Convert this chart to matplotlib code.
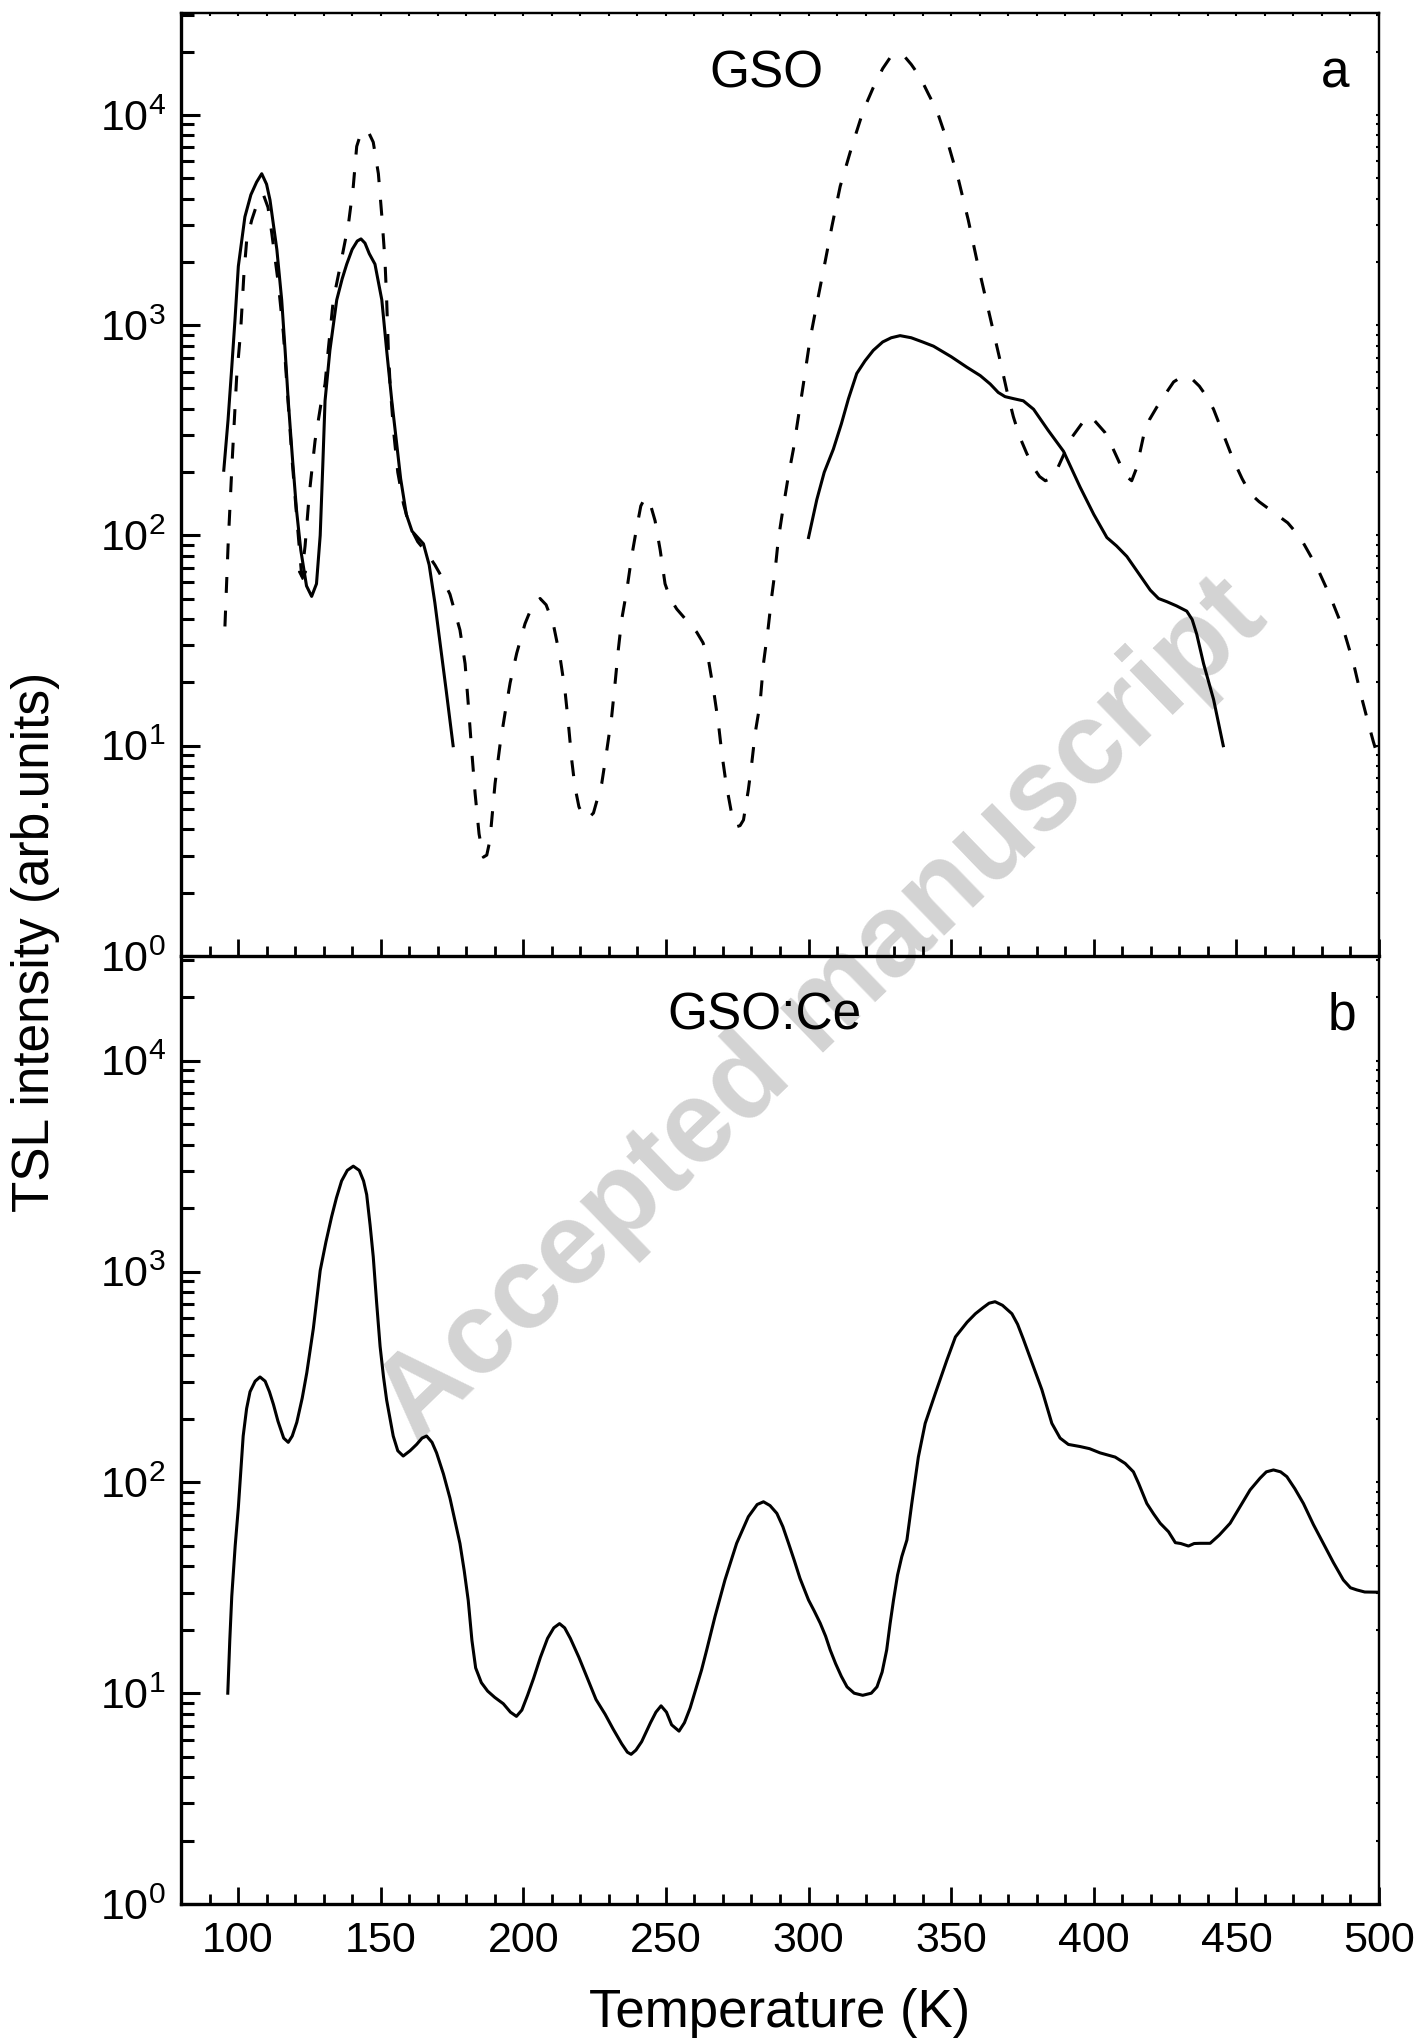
import numpy as np
import matplotlib
matplotlib.use("Agg")
import matplotlib.pyplot as plt
from matplotlib.ticker import FixedLocator, FuncFormatter, MultipleLocator, NullFormatter, LogLocator

plt.rcParams['font.family'] = ['Liberation Sans', 'DejaVu Sans']
plt.rcParams['mathtext.fontset'] = 'custom'
plt.rcParams['mathtext.rm'] = 'Liberation Sans'
plt.rcParams['mathtext.it'] = 'Liberation Sans:italic'
plt.rcParams['mathtext.bf'] = 'Liberation Sans:bold'

# ---------------- data (log10 of TSL intensity) ----------------
# Panel a, GSO, solid curve (two segments)
gso_solid1_T = [95, 96.5, 97.8, 98.9, 100.1, 102.4, 104.5, 106.5, 108.3, 110, 111.2, 113.6, 115.3,
                116.5, 117.6, 119, 120.5, 122, 124, 125.8, 127.5, 128.8, 129.7, 130.5, 132.2, 134.6,
                136.5, 138.1, 140, 141.8, 143.1, 144.5, 146, 148, 150.4, 152.1, 153.9, 155.5, 157,
                159, 161, 163, 165, 167, 169, 171, 173, 175.4]
gso_solid1_logI = [2.31, 2.55, 2.80, 3.02, 3.28, 3.515, 3.62, 3.68, 3.72, 3.67, 3.595, 3.36, 3.12,
                   2.88, 2.64, 2.38, 2.12, 1.93, 1.76, 1.71, 1.77, 2.0, 2.33, 2.64, 2.88, 3.12,
                   3.22, 3.29, 3.36, 3.40, 3.41, 3.39, 3.34, 3.29, 3.12, 2.88, 2.64, 2.45, 2.27,
                   2.10, 2.02, 1.99, 1.96, 1.86, 1.68, 1.47, 1.26, 1.0]

gso_solid2_T = [300, 302.9, 305.5, 308.7, 311.5, 314, 316.9, 319.8, 322.7, 326, 329, 332.1, 336, 340,
                343.8, 350, 355.5, 360.2, 363.7, 366.5, 368.9, 372, 375.3, 378.9, 384, 389.4, 395.2,
                400, 404.6, 408, 411.6, 415.7, 419.8, 422.7, 425.6, 429, 432.6, 434.5, 436.1, 438.5,
                442, 445.4]
gso_solid2_logI = [1.99, 2.17, 2.30, 2.41, 2.53, 2.65, 2.77, 2.83, 2.88, 2.92, 2.94, 2.95, 2.94, 2.92,
                   2.90, 2.85, 2.80, 2.76, 2.72, 2.68, 2.66, 2.65, 2.64, 2.60, 2.50, 2.40, 2.23,
                   2.10, 1.99, 1.95, 1.90, 1.82, 1.74, 1.70, 1.685, 1.665, 1.64, 1.60, 1.53, 1.39,
                   1.22, 1.0]

# Panel a, GSO, dashed curve
gso_dash_T = [95.4, 96.5, 98, 99.5, 100.9, 102, 103, 104.8, 106.5, 108.9, 110.5, 111.8, 114.1, 115.9,
              117.1, 119, 120.8, 122.3, 123.5, 125, 127, 129, 130.5, 131.6, 133.4, 135.8, 138.7,
              140.4, 141.6, 143, 144.5, 146, 147.4, 149.2, 150.4, 151.5, 152.1, 152.7, 153.3, 154.5,
              156, 158, 160, 163, 166, 169, 171.5, 174.3, 177.8, 179.6, 180.7, 181.9, 183.1, 184.5,
              186, 187.2, 188.3, 190.1, 191.9, 193.6, 195.4, 197.7, 200.6, 203, 205.9, 208, 210.5,
              212.9, 214.6, 215.8, 217, 218.1, 219.5, 221.1, 222.8, 224.6, 227.5, 229.3, 231, 232.2,
              233.3, 234.5, 236.3, 238, 239.8, 241.2, 242.7, 244.5, 246.2, 248, 249.7, 251.5, 253.8,
              257, 260.8, 263, 264.9, 266.7, 268.4, 269.6, 271.1, 273, 274.8, 276, 277.2, 278.9,
              280.1, 281.3, 283, 284.2, 285.9, 287.1, 288.3, 289.4, 291.2, 292.9, 294.7, 296.5,
              298.2, 300.5, 302.9, 305.8, 308.2, 311.1, 315.2, 319.2, 322.7, 326, 328.5, 330.9,
              333.5, 336, 339.1, 342, 345, 349, 352.6, 356, 359, 361.9, 364.8, 367.2, 369.5, 371.8,
              374, 376.5, 379, 381, 383, 385, 387, 390, 392.5, 395.2, 397.6, 400, 403.9, 406.5,
              409.2, 411.5, 413.3, 415, 417.4, 419.5, 422.1, 425, 428, 430.9, 434, 437, 439.6, 442,
              444.3, 448.9, 452, 454.8, 458, 463, 468, 472.4, 478.2, 482.9, 487.6, 491.1, 493.5,
              496, 498, 500]
gso_dash_logI = [1.567, 1.95, 2.37, 2.75, 2.97, 3.23, 3.40, 3.50, 3.57, 3.62, 3.56, 3.44, 3.20, 2.96,
                 2.72, 2.35, 2.05, 1.81, 1.95, 2.2, 2.45, 2.62, 2.72, 2.88, 3.12, 3.28, 3.48,
                 3.66, 3.85, 3.91, 3.93, 3.91, 3.87, 3.72, 3.52, 3.31, 3.12, 2.88, 2.72, 2.50,
                 2.30, 2.15, 2.05, 1.97, 1.92, 1.86, 1.80, 1.72, 1.55, 1.39, 1.20, 0.98, 0.774, 0.58,
                 0.47, 0.48, 0.55, 0.82, 1.01, 1.155, 1.30, 1.44, 1.58, 1.66, 1.70, 1.67, 1.58,
                 1.42, 1.265, 1.107, 0.93, 0.805, 0.71, 0.662, 0.655, 0.68, 0.82, 0.98, 1.14, 1.30,
                 1.455, 1.60, 1.74, 1.90, 2.04, 2.14, 2.18, 2.15, 2.07, 1.93, 1.77, 1.70, 1.65,
                 1.60, 1.54, 1.49, 1.41, 1.265, 1.107, 0.964, 0.82, 0.68, 0.615, 0.62, 0.647, 0.79,
                 0.917, 1.06, 1.20, 1.39, 1.565, 1.71, 1.835, 1.98, 2.14, 2.28, 2.41, 2.57,
                 2.72, 2.93, 3.10, 3.30, 3.47, 3.66, 3.85, 4.02, 4.13, 4.22, 4.27, 4.29,
                 4.28, 4.24, 4.18, 4.10, 4.02, 3.86, 3.69, 3.50, 3.31, 3.14, 2.97, 2.83, 2.69, 2.565,
                 2.47, 2.39, 2.32, 2.28, 2.26, 2.27, 2.31, 2.40, 2.47, 2.52, 2.565, 2.55, 2.49, 2.42,
                 2.34, 2.28, 2.26, 2.32, 2.47, 2.55, 2.61, 2.67, 2.73, 2.755, 2.75, 2.71, 2.66, 2.60,
                 2.52, 2.36, 2.27, 2.20, 2.16, 2.11, 2.06, 1.99, 1.85, 1.71, 1.55, 1.39, 1.25,
                 1.12, 1.02, 0.93]

# arrow head drawn on the dashed curve
arrow_T = [122.3]
arrow_logI = [1.81]

# Panel b, GSO:Ce
ce_T = [96.4, 97.1, 97.8, 99, 100.1, 101.8, 103, 104.2, 106, 107.7, 109.5, 111, 112.4, 114, 116,
        117.6, 119, 120.6, 122.5, 124.1, 126.4, 128.8, 130.8, 132.8, 134.5, 136.3, 138.3, 140.4,
        142.5, 144, 145.1, 146.3, 147.4, 148.6, 149.8, 151, 152.1, 154.4, 156, 157.9, 160.3,
        162.6, 164.5, 166.1, 168, 169.6, 172, 174.3, 176, 177.8, 179.3, 180.7, 182, 183.3, 185.3,
        187.5, 190, 193, 195.5, 197.6, 199.5, 201.5, 203.6, 206, 208.5, 210.7, 212.7, 214.5,
        216.5, 219.5, 222.5, 225.5, 228.7, 231.5, 234.5, 236.5, 237.8, 239.5, 241.5, 244.6,
        246.5, 248.3, 250.2, 252, 254.6, 256.5, 258.5, 260.5, 262.5, 264.3, 267.2, 270.7, 274.8,
        278.9, 282, 284.2, 286.5, 288.9, 291, 293, 295, 297, 300, 302, 304.1, 306, 307.6, 309.5,
        311.5, 313.5, 316, 319, 322, 324, 325.8, 327.4, 328.6, 329.8, 331.2, 332.7, 334.5, 336.2,
        338.5, 340.9, 344.4, 348.5, 351.5, 355.6, 358.5, 361.3, 363.3, 365.4, 368, 371.3, 373.3,
        375.3, 378.8, 381.8, 385.3, 388.2, 391.1, 395.2, 398.5, 402.2, 407.5, 411, 413.9, 415.7,
        418.6, 421, 423.3, 426.2, 428.6, 430.5, 433.2, 435.2, 437.3, 440.8, 444, 447.8, 451.5,
        454.8, 458.3, 460.5, 463, 465.5, 467.7, 470.5, 473.5, 477, 480.5, 484, 487.5, 490, 492.2,
        495, 499.8]
ce_logI = [1.0, 1.25, 1.46, 1.70, 1.88, 2.22, 2.35, 2.43, 2.48, 2.50, 2.48, 2.43, 2.37, 2.29, 2.21,
           2.19, 2.22, 2.285, 2.40, 2.52, 2.73, 3.005, 3.14, 3.26, 3.35, 3.43, 3.48, 3.50,
           3.48, 3.43, 3.365, 3.22, 3.07, 2.85, 2.645, 2.50, 2.39, 2.22, 2.15, 2.125, 2.15,
           2.18, 2.21, 2.22, 2.19, 2.14, 2.04, 1.925, 1.82, 1.71, 1.58, 1.44, 1.25, 1.12, 1.05,
           1.01, 0.98, 0.95, 0.91, 0.89, 0.92, 0.99, 1.07, 1.17, 1.26, 1.31, 1.33, 1.31,
           1.26, 1.17, 1.07, 0.97, 0.90, 0.83, 0.76, 0.72, 0.71, 0.73, 0.77, 0.86,
           0.91, 0.94, 0.91, 0.85, 0.82, 0.86, 0.93, 1.02, 1.11, 1.205, 1.363, 1.537, 1.711,
           1.837, 1.895, 1.908, 1.89, 1.853, 1.79, 1.711, 1.63, 1.545, 1.442, 1.39, 1.332, 1.27, 1.205, 1.14,
           1.08, 1.03, 1.0, 0.99, 1.0, 1.03, 1.10, 1.205, 1.33, 1.442, 1.56, 1.648, 1.727, 1.90,
           2.12, 2.28, 2.42, 2.58, 2.69, 2.76, 2.80, 2.83, 2.85, 2.857, 2.84, 2.80, 2.75,
           2.68, 2.55, 2.44, 2.28, 2.21, 2.18, 2.17, 2.16, 2.14, 2.12, 2.09, 2.05, 1.996,
           1.90, 1.85, 1.806, 1.766, 1.714, 1.71, 1.698, 1.71, 1.711, 1.711, 1.75, 1.806, 1.89,
           1.964, 2.02, 2.05, 2.059, 2.05, 2.027, 1.97, 1.90, 1.80, 1.71, 1.62, 1.537, 1.50, 1.49,
           1.48, 1.479]

decade_ticks = [1, 10, 100, 1000, 10000]
x_major = [100, 150, 200, 250, 300, 350, 400, 450, 500]

# ---------------- figure ----------------
W, H = 1421, 2041
fig = plt.figure(figsize=(W / 100, H / 100), dpi=100)
fig.patch.set_facecolor('white')

left = 181 / W
width = (1379 - 181) / W
y_a_bot = 1 - 956 / H
y_a_top = 1 - 13 / H
y_b_bot = 1 - 1904 / H
ax_a = fig.add_axes([left, y_a_bot, width, y_a_top - y_a_bot])
ax_b = fig.add_axes([left, y_b_bot, width, y_a_bot - y_b_bot])

LW = 2.2
ax_a.plot(gso_solid1_T, 10 ** np.array(gso_solid1_logI), color='black', lw=LW, solid_joinstyle='round')
ax_a.plot(gso_solid2_T, 10 ** np.array(gso_solid2_logI), color='black', lw=LW, solid_joinstyle='round')
ax_a.plot(gso_dash_T, 10 ** np.array(gso_dash_logI), color='black', lw=LW, dashes=(5.2, 5.8),
          dash_capstyle='butt')
ax_a.plot(arrow_T, 10 ** np.array(arrow_logI), marker='v', color='black', markersize=6, ls='none')
ax_b.plot(ce_T, 10 ** np.array(ce_logI), color='black', lw=LW, solid_joinstyle='round')

fmt = FuncFormatter(lambda v, p: r'$\mathregular{10^{%d}}$' % int(round(np.log10(v))))

for ax, ytop in ((ax_a, 3.05e4), (ax_b, 3.14e4)):
    ax.set_facecolor('none')
    ax.set_yscale('log')
    ax.set_xlim(80, 500)
    ax.set_ylim(1, ytop)
    ax.yaxis.set_major_locator(FixedLocator(decade_ticks))
    ax.yaxis.set_minor_locator(LogLocator(base=10, subs=np.arange(2, 10)))
    ax.yaxis.set_major_formatter(fmt)
    ax.yaxis.set_minor_formatter(NullFormatter())
    ax.xaxis.set_major_locator(FixedLocator(x_major))
    ax.xaxis.set_minor_locator(MultipleLocator(10))
    ax.tick_params(axis='y', which='major', direction='in', length=14, width=2.2,
                   labelsize=31, pad=11, left=True, right=False)
    ax.tick_params(axis='y', which='minor', direction='in', length=9, width=2.2,
                   left=True, right=False)
    ax.tick_params(axis='x', which='major', direction='in', length=12, width=2.0,
                   labelsize=31, pad=12, top=False, bottom=True)
    ax.tick_params(axis='x', which='minor', direction='in', length=7, width=2.0,
                   top=False, bottom=True)
    for s in ('left', 'bottom'):
        ax.spines[s].set_linewidth(2.4)
    for s in ('top', 'right'):
        ax.spines[s].set_linewidth(1.6)
    # tiny ticks on the right side
    sec = ax.secondary_yaxis('right')
    sec.tick_params(which='both', direction='in', length=2.5, width=1.5, labelright=False)
    sec.spines['right'].set_linewidth(1.6)

ax_a.tick_params(axis='x', labelbottom=False)
ax_b.spines['top'].set_visible(False)
sec_top = ax_a.secondary_xaxis('top')
sec_top.xaxis.set_major_locator(MultipleLocator(10))
sec_top.tick_params(which='both', direction='in', length=2.5, width=1.5, labeltop=False)
sec_top.spines['top'].set_linewidth(1.6)

# panel annotations
ax_a.text(0.4883, 0.9215, 'GSO', transform=ax_a.transAxes, ha='center', va='baseline', fontsize=37)
ax_a.text(0.963, 0.9215, 'a', transform=ax_a.transAxes, ha='center', va='baseline', fontsize=37)
ax_b.text(0.4866, 0.9225, 'GSO:Ce', transform=ax_b.transAxes, ha='center', va='baseline', fontsize=37)
ax_b.text(0.969, 0.9225, 'b', transform=ax_b.transAxes, ha='center', va='baseline', fontsize=37)

# axis labels
fig.text(780 / W, 1 - 2026.7 / H, 'Temperature (K)', ha='center', va='baseline', fontsize=38)
fig.text(35.7 / W, 1 - 941.5 / H, 'TSL intensity (arb.units)', rotation=90, ha='center',
         va='center', fontsize=37)

# watermark
fig.text(822 / W, 1 - 1011 / H, 'Accepted manuscript', rotation=44, ha='center', va='center',
         fontsize=84, fontweight='bold', color='#d3d3d3', zorder=-1)

fig.savefig('out.png', dpi=100)
